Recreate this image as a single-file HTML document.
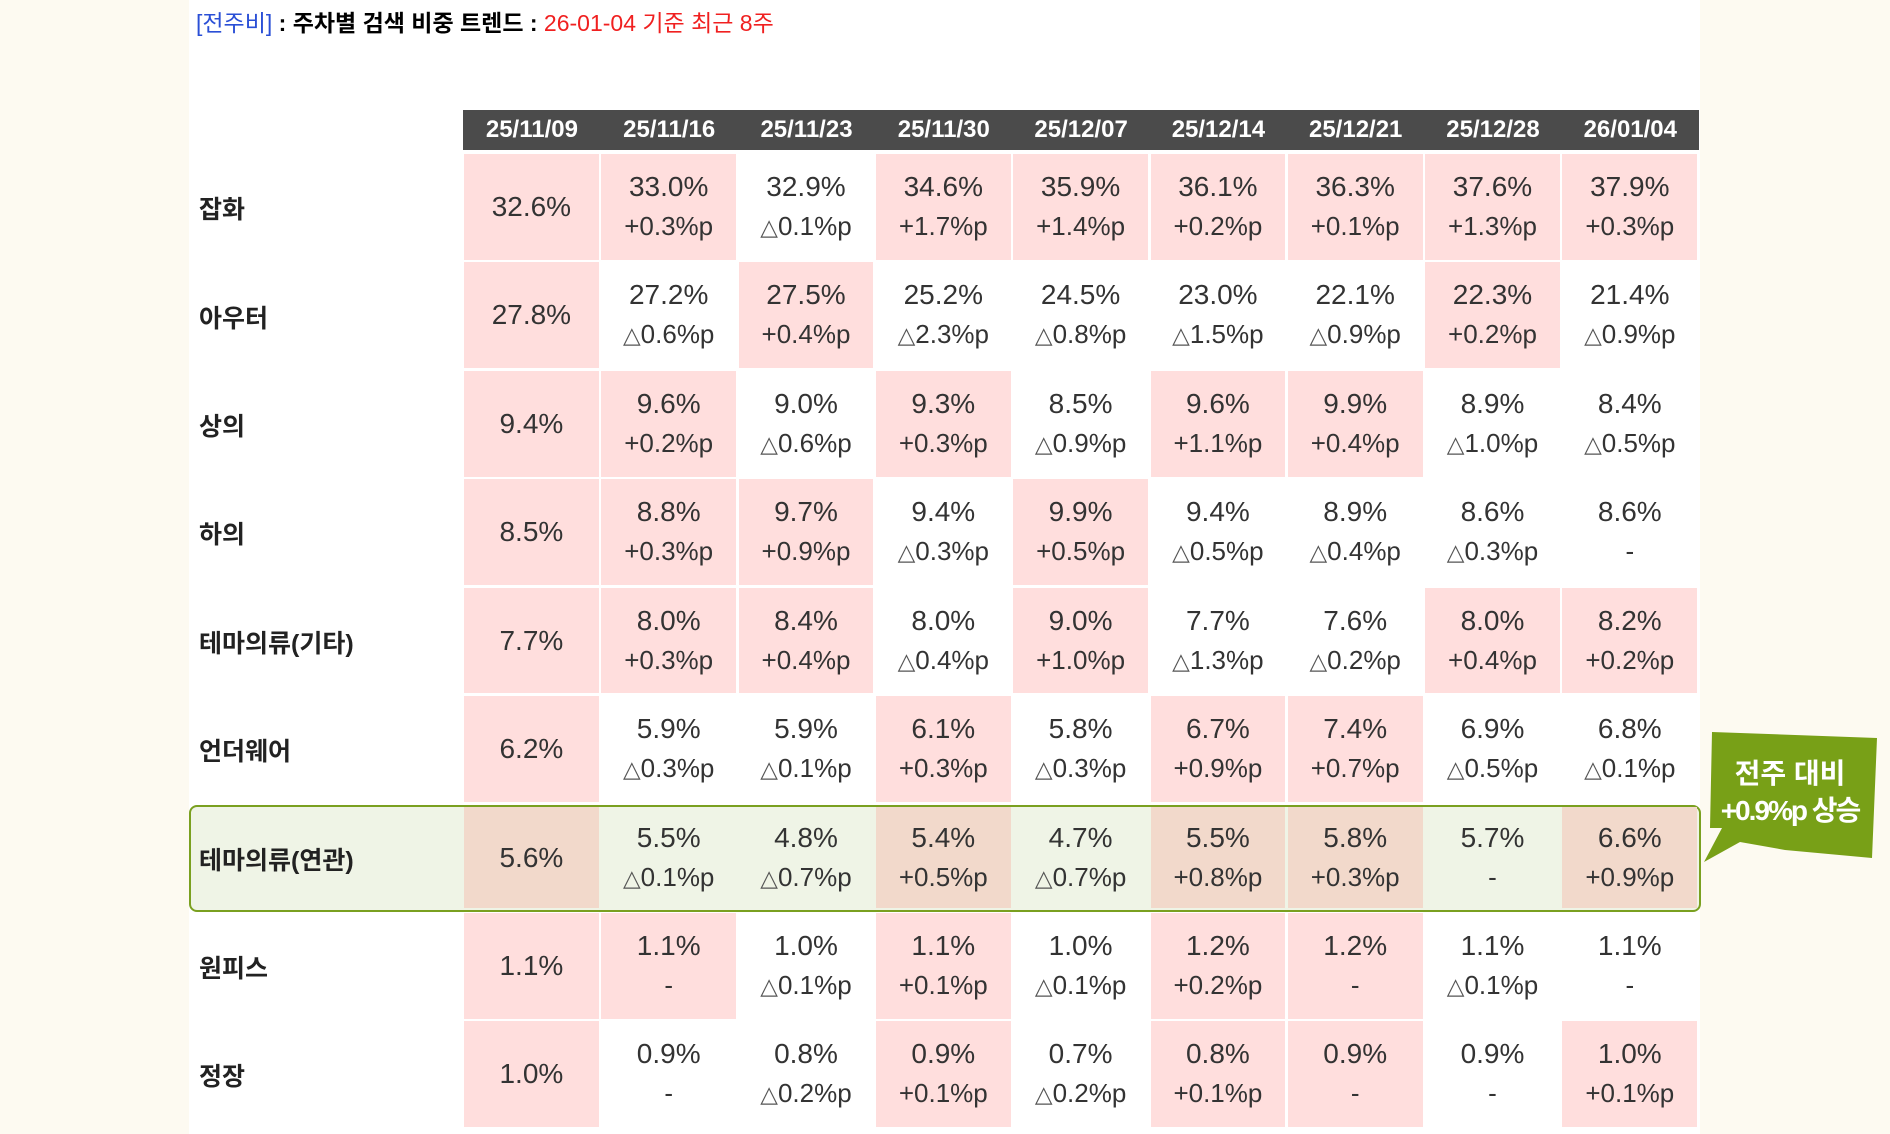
<!DOCTYPE html>
<html><head><meta charset="utf-8">
<style>
html,body{margin:0;padding:0;}
body{width:1890px;height:1134px;background:#fdfaf1;position:relative;overflow:hidden;font-family:"Liberation Sans","Noto Sans CJK KR",sans-serif;}
#panel{position:absolute;left:189px;top:0;width:1511px;height:1134px;background:#fff;}
.abs{position:absolute;}
.hdr{position:absolute;background:#4b4b4b;color:#fff;font-weight:bold;font-size:24px;text-align:center;line-height:40px;}
.cell{position:absolute;text-align:center;color:#333;}
.v{position:absolute;left:0;right:0;font-size:28px;line-height:30px;}
.c{position:absolute;left:0;right:0;font-size:26px;line-height:30px;}
.c span{font-family:"DejaVu Sans",sans-serif;font-size:23px;color:#555;}
.lbl{position:absolute;font-weight:bold;font-size:25px;color:#222;}
</style></head><body>
<div id="panel"></div>
<div class="abs" style="left:196px;top:4px;font-size:23px;font-weight:bold;white-space:nowrap;">
<span style="color:#2a4fd6;font-weight:normal">[전주비]</span> : 주차별 검색 비중 트렌드 : <span style="color:#f02020;font-weight:normal">26-01-04 기준 최근 8주</span></div>
<div id="hl" class="abs" style="left:189px;top:805px;width:1508px;height:103px;border:2px solid #7aa020;border-radius:8px;background:#eff4e6;"></div>
<div id="tbl"></div>
<svg class="abs" style="left:1690px;top:720px" width="200" height="160">
<polygon points="22,12 187,18 182,138 95,130 50,122 14,142 32,108 20,108" fill="#78a017"/>
<text x="100" y="63" fill="#fff" font-size="28" font-weight="bold" text-anchor="middle" font-family="Liberation Sans, Noto Sans CJK KR, sans-serif">전주 대비</text>
<text x="100" y="100" fill="#fff" font-size="28" font-weight="bold" text-anchor="middle" font-family="Liberation Sans, Noto Sans CJK KR, sans-serif" letter-spacing="-2">+0.9%p 상승</text>
</svg>
<script>
const weeks=["25/11/09","25/11/16","25/11/23","25/11/30","25/12/07","25/12/14","25/12/21","25/12/28","26/01/04"];
const categories=["잡화","아우터","상의","하의","테마의류(기타)","언더웨어","테마의류(연관)","원피스","정장"];
const values=[
[32.6,33.0,32.9,34.6,35.9,36.1,36.3,37.6,37.9],
[27.8,27.2,27.5,25.2,24.5,23.0,22.1,22.3,21.4],
[9.4,9.6,9.0,9.3,8.5,9.6,9.9,8.9,8.4],
[8.5,8.8,9.7,9.4,9.9,9.4,8.9,8.6,8.6],
[7.7,8.0,8.4,8.0,9.0,7.7,7.6,8.0,8.2],
[6.2,5.9,5.9,6.1,5.8,6.7,7.4,6.9,6.8],
[5.6,5.5,4.8,5.4,4.7,5.5,5.8,5.7,6.6],
[1.1,1.1,1.0,1.1,1.0,1.2,1.2,1.1,1.1],
[1.0,0.9,0.8,0.9,0.7,0.8,0.9,0.9,1.0]];
const changes=[
["","+0.3%p","△0.1%p","+1.7%p","+1.4%p","+0.2%p","+0.1%p","+1.3%p","+0.3%p"],
["","△0.6%p","+0.4%p","△2.3%p","△0.8%p","△1.5%p","△0.9%p","+0.2%p","△0.9%p"],
["","+0.2%p","△0.6%p","+0.3%p","△0.9%p","+1.1%p","+0.4%p","△1.0%p","△0.5%p"],
["","+0.3%p","+0.9%p","△0.3%p","+0.5%p","△0.5%p","△0.4%p","△0.3%p","-"],
["","+0.3%p","+0.4%p","△0.4%p","+1.0%p","△1.3%p","△0.2%p","+0.4%p","+0.2%p"],
["","△0.3%p","△0.1%p","+0.3%p","△0.3%p","+0.9%p","+0.7%p","△0.5%p","△0.1%p"],
["","△0.1%p","△0.7%p","+0.5%p","△0.7%p","+0.8%p","+0.3%p","-","+0.9%p"],
["","-","△0.1%p","+0.1%p","△0.1%p","+0.2%p","-","△0.1%p","-"],
["","-","△0.2%p","+0.1%p","△0.2%p","+0.1%p","-","-","+0.1%p"]];
const pink=[
[1,1,0,1,1,1,1,1,1],[1,0,1,0,0,0,0,1,0],[1,1,0,1,0,1,1,0,0],[1,1,1,0,1,0,0,0,0],
[1,1,1,0,1,0,0,1,1],[1,0,0,1,0,1,1,0,0],[1,0,0,1,0,1,1,0,1],[1,1,0,1,0,1,1,0,0],[1,0,0,1,0,1,1,0,1]];
const HL=6;
const tbl=document.getElementById('tbl');
const X0=463,CW=137.3,Y0=153,RH=108.4;
weeks.forEach((w,i)=>{
 const h=document.createElement('div');h.className='hdr';
 
 
 h.style.left=(X0+i*CW)+'px';h.style.top='110px';h.style.width=(CW+0.5)+'px';h.style.height='40px';
 h.textContent=w;tbl.appendChild(h);
});
categories.forEach((cat,r)=>{
 const y=Y0+r*RH;
 const l=document.createElement('div');l.className='lbl';
 
 
 l.style.left='199px';l.style.top=(y+RH/2-17)+'px';l.textContent=cat;tbl.appendChild(l);
 values[r].forEach((v,c)=>{
  const d=document.createElement('div');d.className='cell';
  
  
  const hl=r===HL;
  let top=y+1,hgt=RH-2.5;
  if(hl){top=807;hgt=101;}
  d.style.left=(X0+c*CW+1)+'px';d.style.top=top+'px';d.style.width=(CW-2.5)+'px';d.style.height=hgt+'px';
  d.style.background=pink[r][c]?(hl?'#f2d9cb':'#ffdedd'):(hl?'transparent':'#fff');
  const mid=hgt/2;
  const vs=document.createElement('div');vs.className='v';vs.textContent=v.toFixed(1)+'%';
  
  
  if(changes[r][c]===''){vs.style.top=(mid-15)+'px';d.appendChild(vs);}
  else{
   vs.style.top=(mid-35)+'px';d.appendChild(vs);
   const cs=document.createElement('div');cs.className='c';
   
   
   const t=changes[r][c];
   if(t[0]==='△'){const s=document.createElement('span');s.textContent='△';cs.appendChild(s);cs.appendChild(document.createTextNode(t.slice(1)));}
   else cs.textContent=t;
   cs.style.top=(mid+4)+'px';d.appendChild(cs);
  }
  tbl.appendChild(d);
 });
});
</script>
</body></html>
